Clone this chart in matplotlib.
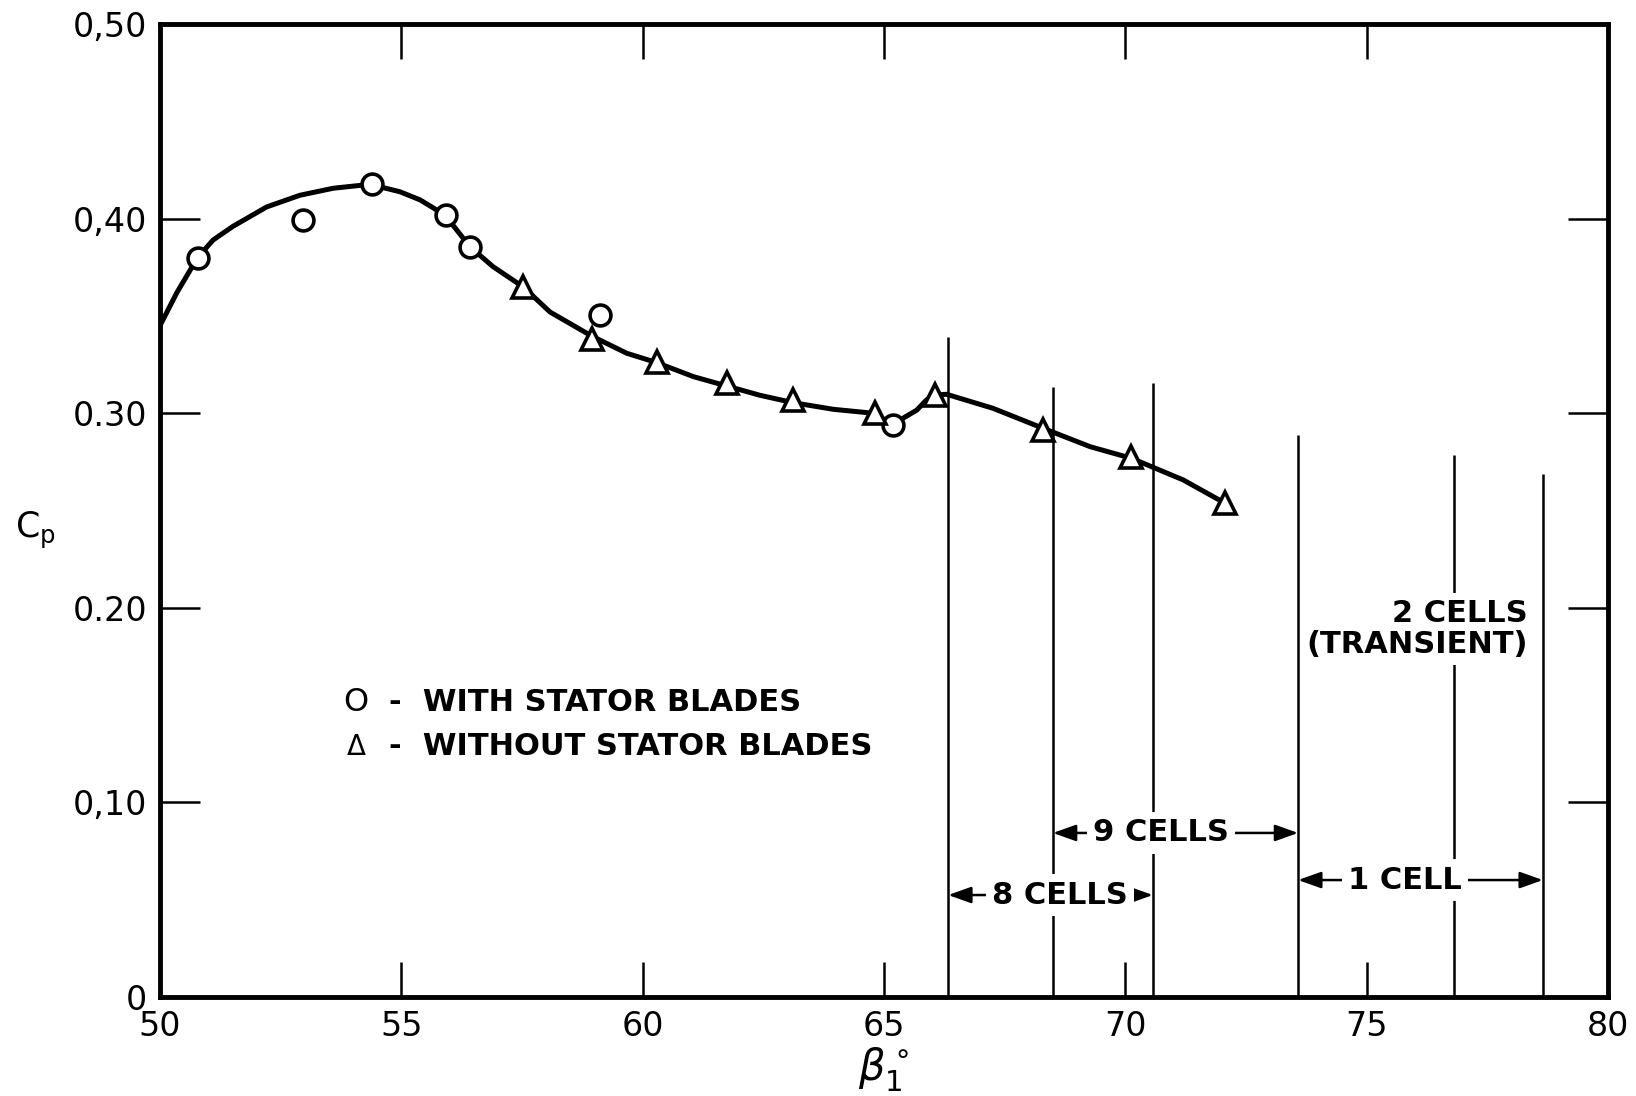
import matplotlib
matplotlib.use("Agg")
import matplotlib.pyplot as plt

# --- data ------------------------------------------------------------------
curve_x = [50.0, 50.35, 50.78, 51.10, 51.51, 52.21, 52.90, 53.59, 54.35, 54.97,
           55.39, 55.90, 56.42, 56.90, 57.53, 58.08, 58.94, 59.67, 60.29, 61.05,
           61.74, 62.43, 63.12, 63.95, 64.81, 65.18, 65.40, 65.68, 65.88, 66.06,
           66.30, 67.26, 68.30, 69.27, 70.13, 71.20, 72.07]
curve_y = [0.345, 0.362, 0.380, 0.389, 0.396, 0.406, 0.412, 0.4156, 0.4176, 0.4138,
           0.4096, 0.4019, 0.3856, 0.3753, 0.3648, 0.352, 0.3397, 0.3308, 0.326, 0.3188,
           0.314, 0.3092, 0.3054, 0.302, 0.2999, 0.2939, 0.2975, 0.3016, 0.3068, 0.3094,
           0.3097, 0.3025, 0.2922, 0.2828, 0.2768, 0.2657, 0.2537]

with_stator_x = [50.78, 52.97, 54.39, 55.92, 56.43, 59.12, 65.18]
with_stator_y = [0.3796, 0.3993, 0.4176, 0.4019, 0.3856, 0.3505, 0.2939]

without_stator_x = [57.53, 58.94, 60.29, 61.74, 63.12, 64.81, 66.06, 68.30, 70.12, 72.06]
without_stator_y = [0.3648, 0.3380, 0.3265, 0.3154, 0.3068, 0.2999, 0.3094, 0.2914, 0.2776, 0.2537]

cell_x = [66.33, 68.50, 70.57, 73.58, 76.80, 78.65]
cell_top = [0.339, 0.3135, 0.3155, 0.289, 0.2785, 0.269]

# (label, text x, text y, arrow from, arrow to)
cell_spans = [("8 CELLS", 68.65, 0.0524, 66.33, 70.57),
              ("9 CELLS", 70.74, 0.0843, 68.50, 73.58),
              ("1 CELL", 75.79, 0.0601, 73.58, 78.65)]

x_ticks = [50, 55, 60, 65, 70, 75, 80]
y_ticks = [0, 0.1, 0.2, 0.3, 0.4, 0.5]
y_tick_labels = ["0", "0,10", "0.20", "0.30", "0,40", "0,50"]

# --- figure ----------------------------------------------------------------
fig = plt.figure(figsize=(16.36, 10.96), dpi=100)
ax = fig.add_axes([160/1636, 99/1096, 1448/1636, 973/1096])
ax.set_xlim(50, 80)
ax.set_ylim(0, 0.5)

for s in ax.spines.values():
    s.set_linewidth(3.5)

ax.set_xticks(x_ticks)
ax.set_yticks(y_ticks)
ax.set_yticklabels(y_tick_labels)
ax.tick_params(axis="both", direction="in", top=True, right=True,
               width=1.8, labelsize=24, pad=9)
ax.tick_params(axis="x", length=25)
ax.tick_params(axis="y", length=29)

ax.plot(curve_x, curve_y, color="black", lw=3.6, zorder=3,
        solid_capstyle="round", solid_joinstyle="round")
ax.plot(with_stator_x, with_stator_y, "o", ms=15, mfc="white", mec="black",
        mew=2.6, zorder=4)
ax.plot(without_stator_x, without_stator_y, "^", ms=16, mfc="white", mec="black",
        mew=2.6, zorder=4)

ax.vlines(cell_x, 0, cell_top, colors="black", lw=1.8, zorder=2)

lettering = dict(fontsize=22, fontweight="bold")
for label, tx, ty, x0, x1 in cell_spans:
    ax.annotate("", xy=(x1, ty), xytext=(x0, ty),
                arrowprops=dict(arrowstyle="<|-|>,head_length=0.7,head_width=0.25",
                                color="black", lw=1.8, mutation_scale=20,
                                shrinkA=0, shrinkB=0), zorder=2)
    ax.text(tx, ty, label, ha="center", va="center", zorder=5,
            bbox=dict(boxstyle="square,pad=0.2", fc="white", ec="none"), **lettering)

ax.text(78.34, 0.189, "2 CELLS\n(TRANSIENT)", ha="right", va="center",
        multialignment="right", linespacing=1.1, zorder=5,
        bbox=dict(boxstyle="square,pad=0.2", fc="white", ec="none"), **lettering)

# hand-lettered legend
ax.text(54.06, 0.1515, "O", ha="center", va="center", fontsize=23)
ax.text(54.06, 0.1285, "\u0394", ha="center", va="center", fontsize=20)
ax.text(54.74, 0.1515, "-  WITH STATOR BLADES", ha="left", va="center", **lettering)
ax.text(54.74, 0.1285, "-  WITHOUT STATOR BLADES", ha="left", va="center", **lettering)

ax.set_xlabel(r"$\beta_1^\circ$", fontsize=30, labelpad=2)
ax.set_ylabel(r"C$_\mathrm{p}$", fontsize=25, rotation=0, ha="center", va="center")
ax.yaxis.set_label_coords(-0.086, 0.48)

fig.savefig("out.png", dpi=100)
